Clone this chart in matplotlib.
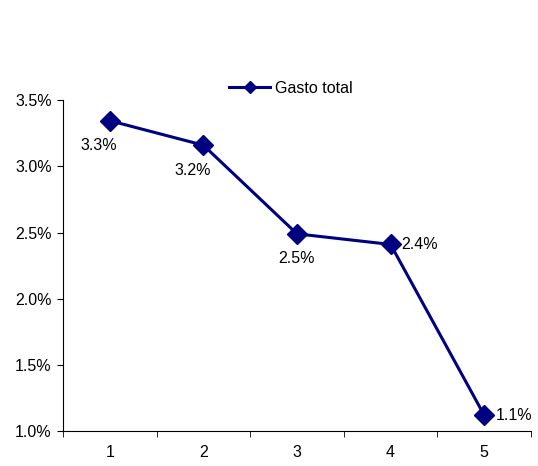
import matplotlib.pyplot as plt
from matplotlib.ticker import FuncFormatter

# datos (porcentaje)
quintiles = [1, 2, 3, 4, 5]
gasto_total = [3.345, 3.16, 2.49, 2.41, 1.12]
etiquetas = ["3.3%", "3.2%", "2.5%", "2.4%", "1.1%"]

plt.rcParams['font.family'] = ['Liberation Sans', 'DejaVu Sans']
plt.rcParams['font.size'] = 11.5

navy = "#000080"

fig = plt.figure(figsize=(5.38, 4.66), dpi=100)
ax = fig.add_axes([0.117, 0.075, 0.870, 0.710])

ax.plot(quintiles, gasto_total, color=navy, lw=2.2, marker="D", ms=10,
        label="Gasto total")

# etiquetas de datos: las tres primeras debajo, las dos ultimas a la derecha
for i, (x, y, t) in enumerate(zip(quintiles, gasto_total, etiquetas)):
    if i < 3:
        dx = -8 if i < 2 else 0
        ax.annotate(t, (x, y), xytext=(dx, -18), textcoords="offset points",
                    ha="center", va="center")
    else:
        ax.annotate(t, (x, y), xytext=(8, 0), textcoords="offset points",
                    ha="left", va="center")

ax.set_xlim(0.5, 5.5)
ax.set_ylim(1.0, 3.5)
ax.set_yticks([1.0, 1.5, 2.0, 2.5, 3.0, 3.5])
ax.yaxis.set_major_formatter(FuncFormatter(lambda v, p: "%.1f%%" % v))

ax.set_xticks(quintiles)
ax.set_xticklabels([str(q) for q in quintiles])
ax.set_xticks([0.5, 1.5, 2.5, 3.5, 4.5, 5.5], minor=True)
ax.tick_params(axis="x", which="major", length=0, pad=10)
ax.tick_params(axis="x", which="minor", length=4, direction="out")
ax.tick_params(axis="y", length=4, direction="out", pad=4)

for s in ["top", "right"]:
    ax.spines[s].set_visible(False)
ax.spines["left"].set_linewidth(0.8)
ax.spines["bottom"].set_linewidth(0.8)

ax.legend(loc="center", bbox_to_anchor=(0.487, 1.036), frameon=False,
          handlelength=2.6, handletextpad=0.3, markerscale=0.6)

plt.savefig("out.png", dpi=100)
